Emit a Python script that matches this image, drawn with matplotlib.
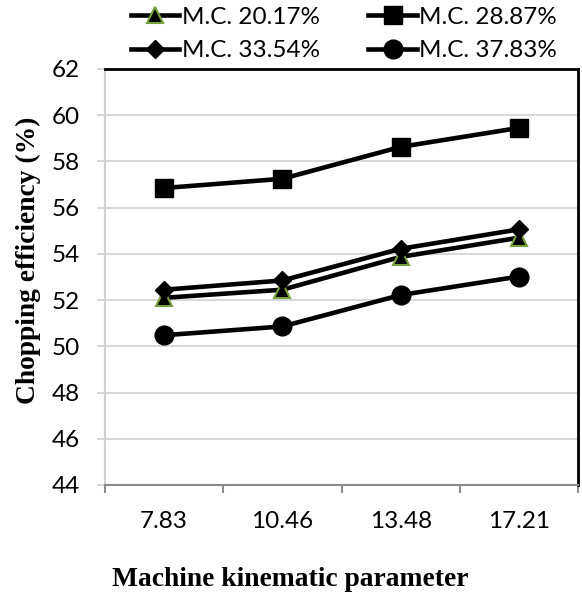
import matplotlib
matplotlib.use("Agg")
import matplotlib.pyplot as plt

categories = ["7.83", "10.46", "13.48", "17.21"]
mc_20_17 = [52.1, 52.45, 53.87, 54.7]
mc_28_87 = [56.85, 57.25, 58.63, 59.45]
mc_33_54 = [52.45, 52.85, 54.22, 55.06]
mc_37_83 = [50.48, 50.86, 52.22, 53.02]
labels = ["M.C. 20.17%", "M.C. 28.87%", "M.C. 33.54%", "M.C. 37.83%"]
yticks = [44, 46, 48, 50, 52, 54, 56, 58, 60, 62]

fig = plt.figure(figsize=(5.82, 6.04), dpi=100)
ax = fig.add_axes([105/582, 1-485/604, 473/582, 416/604])

x = list(range(len(categories)))
lw = 3.3
h1, = ax.plot(x, mc_20_17, color="black", lw=lw, marker="^", ms=12,
              mfc="black", mec="#77a03c", mew=1.5, zorder=4)
h2, = ax.plot(x, mc_28_87, color="black", lw=lw, marker="s", ms=13,
              mfc="black", mec="black", zorder=4)
h3, = ax.plot(x, mc_33_54, color="black", lw=lw, marker="D", ms=9.5,
              mfc="black", mec="black", zorder=5)
h4, = ax.plot(x, mc_37_83, color="black", lw=lw, marker="o", ms=13.5,
              mfc="black", mec="black", zorder=4)

tick_font = {"family": "Lato", "size": 17.5}
ax.set_xlim(-0.5, 3.5)
ax.set_ylim(44, 62)
ax.set_yticks(yticks)
ax.set_yticklabels([str(v) for v in yticks], fontdict=tick_font)
ax.set_xticks(x)
ax.set_xticklabels(categories, fontdict=tick_font)
ax.tick_params(axis="x", length=0, pad=19)
ax.set_xticks([-0.5, 0.5, 1.5, 2.5, 3.5], minor=True)
ax.tick_params(axis="x", which="minor", length=6, width=1.5, color="#8c8c8c", direction="out")
ax.tick_params(axis="y", length=6, width=1.2, color="#d0d0d0", direction="out", pad=12)

ax.grid(axis="y", color="#d9d9d9", lw=1.5, zorder=0)
ax.set_axisbelow(True)
ax.spines["left"].set_color("#d0d0d0")
ax.spines["left"].set_linewidth(1.5)
ax.spines["bottom"].set_color("#8c8c8c")
ax.spines["bottom"].set_linewidth(1.5)
ax.spines["top"].set_color("black")
ax.spines["top"].set_linewidth(2)
ax.spines["right"].set_color("black")
ax.spines["right"].set_linewidth(2)

ax.set_xlabel("Machine kinematic parameter", fontfamily="Liberation Serif",
              fontweight="bold", fontsize=19.8)
ax.xaxis.set_label_coords((290-105)/473, (485-580)/416)
ax.xaxis.label.set_va("center")
ax.set_ylabel("Chopping efficiency (%)", fontfamily="Liberation Serif",
              fontweight="bold", fontsize=19.8)
ax.yaxis.set_label_coords((28-105)/473, (485-260)/416)
ax.yaxis.label.set_va("center")

leg = fig.legend([h1, h3, h2, h4], [labels[0], labels[2], labels[1], labels[3]],
                 ncol=2, loc="center", bbox_to_anchor=(344/582, 1-34/604),
                 frameon=False, prop={"family": "Lato", "size": 17.5},
                 handlelength=2.0, handletextpad=0.1, columnspacing=2.0,
                 labelspacing=0.5, borderaxespad=0)

fig.savefig("out.png", dpi=100)
